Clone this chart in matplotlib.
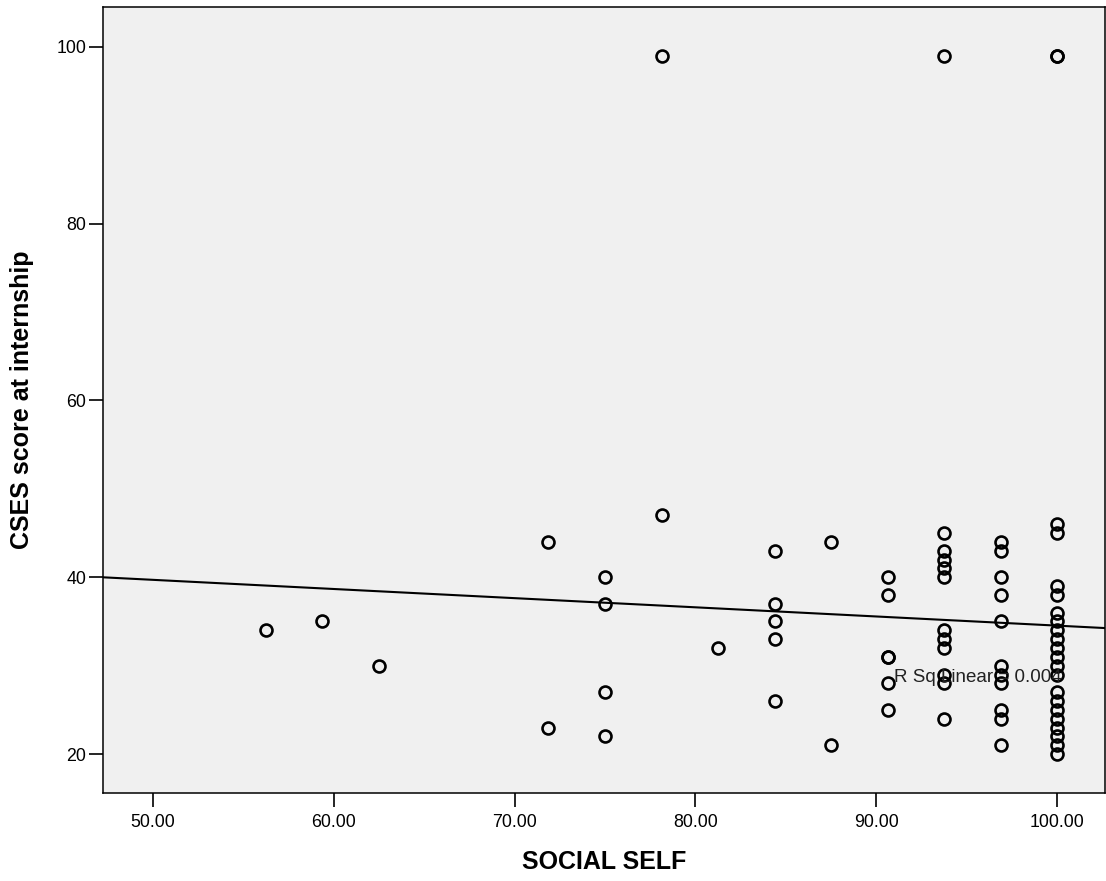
import numpy as np
from matplotlib import pyplot as plt

# SOCIAL SELF score (x) and CSES score at internship (y), one entry per case
social_self = (
    [56.25, 59.375, 62.5]
    + [71.875] * 2
    + [75.0] * 4
    + [78.125] * 2
    + [81.25]
    + [84.375] * 5
    + [87.5] * 2
    + [90.625] * 6
    + [93.75] * 12
    + [96.875] * 11
    + [100.0] * 22
)
cses = (
    [34, 35, 30]
    + [44, 23]
    + [40, 37, 27, 22]
    + [99, 47]
    + [32]
    + [43, 37, 35, 33, 26]
    + [44, 21]
    + [40, 38, 31, 31, 28, 25]
    + [99, 45, 43, 42, 41, 40, 34, 33, 32, 29, 28, 24]
    + [44, 43, 40, 38, 35, 30, 29, 28, 25, 24, 21]
    + [99, 99, 46, 45, 39, 38, 36, 35, 34, 33, 32, 31, 30, 29, 27, 26, 25,
       24, 23, 22, 21, 20]
)

# linear fit line as reported by the stats package
fit_intercept = 44.89
fit_slope = -0.1036
r_sq_linear = 0.004

x_ticks = [50, 60, 70, 80, 90, 100]
y_ticks = [20, 40, 60, 80, 100]

plt.rcParams['font.family'] = ['Liberation Sans', 'DejaVu Sans']

fig = plt.figure(figsize=(11.06, 8.81), dpi=100)
ax = fig.add_axes([103 / 1106, 1 - 793 / 881, 1002 / 1106, 786 / 881])
ax.set_facecolor('#f0f0f0')

xlim = (47.24, 102.65)
ylim = (15.6, 104.5)

xs = np.array(xlim)
ax.plot(xs, fit_intercept + fit_slope * xs, color='black', lw=1.5, zorder=2)

ax.plot(social_self, cses, linestyle='none', marker='o', markersize=8.6,
        markerfacecolor='none', markeredgecolor='black', markeredgewidth=1.9,
        zorder=3)

ax.text(91.0, 28.7, f"R Sq Linear = {r_sq_linear:.3f}", fontsize=13.5,
        color='#222222', va='center', ha='left', zorder=4)

ax.set_xlim(*xlim)
ax.set_ylim(*ylim)
ax.set_xticks(x_ticks)
ax.set_xticklabels([f"{t:.2f}" for t in x_ticks])
ax.set_yticks(y_ticks)
ax.tick_params(axis='both', direction='out', length=10, width=1.2,
               labelsize=12.8, colors='black')
ax.tick_params(axis='y', pad=2)
ax.tick_params(axis='x', pad=5)
for side in ax.spines.values():
    side.set_linewidth(1.1)

ax.set_xlabel("SOCIAL SELF", fontsize=18, fontweight='bold', labelpad=14)
ax.set_ylabel("CSES score at internship", fontsize=18, fontweight='bold',
              labelpad=16)

fig.savefig('out.png', dpi=100)
